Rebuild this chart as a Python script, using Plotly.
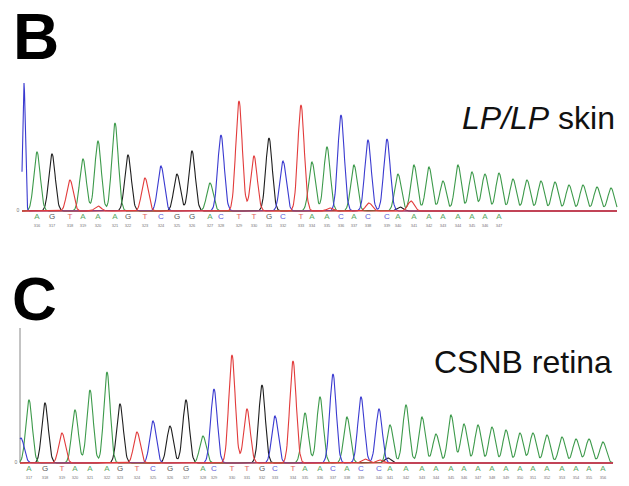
import numpy as np
import plotly.graph_objects as go

# ---------------- data ----------------
# Panel B : LP/LP skin  -- peak positions (scan units), channel, height
b_peak_x = [37, 52, 70, 83, 98, 115, 128, 145, 161, 177, 192, 210, 221, 239, 254, 269, 283, 301, 312,
            327, 341, 354, 368, 387, 398, 414, 429, 443, 458, 472, 485, 499, 513, 527, 541, 555, 569,
            583, 597, 611]
b_peak_ch = "AGTAAAGTCGGACTTGCTAACACCAAAAAAAAAAAAAAAA"
b_peak_h = [59, 57, 31, 52, 70, 88, 56, 33, 45, 37, 60, 28, 76, 110, 55, 73, 50, 106, 49,
            64, 96, 46, 71, 72, 37, 46, 44, 30, 46, 39, 37, 38, 32, 31, 30, 29, 26,
            26, 24, 23]
b_minor_x = [24, 98, 330, 369, 400, 411]
b_minor_ch = "CTTTGT"
b_minor_h = [128, 5, 3, 8, 4, 10]
b_calls = "AGTAAAGTCGGACTTGCTAACACCAAAAAAAA"
b_numbers = [str(n) for n in range(316, 348)]
b_extent = [22, 617]

# Panel C : CSNB retina
c_peak_x = [29, 45, 62, 75, 90, 107, 120, 137, 153, 170, 186, 203, 214, 232, 247, 262, 275, 293, 305,
            320, 333, 347, 361, 379, 390, 406, 422, 436, 451, 464, 478, 492, 506, 520, 533, 547,
            562, 576, 589, 603]
c_peak_ch = "AGTAAAGTCGGACTTGCTAACACCAAAAAAAAAAAAAAAA"
c_peak_h = [63, 60, 30, 53, 73, 91, 59, 31, 42, 37, 63, 27, 74, 108, 54, 78, 47, 102, 50,
            66, 89, 46, 66, 54, 38, 58, 46, 29, 48, 39, 38, 36, 33, 30, 30, 28,
            26, 24, 24, 21]
c_minor_x = [21, 365, 380, 388]
c_minor_ch = "CTTG"
c_minor_h = [25, 4, 3, 5]
c_calls = "AGTAAAGTCGGACTTGCTAACACCAAAAAAAAAAAAAAAA"
c_numbers = [str(n) for n in range(317, 357)]
c_extent = [20, 613]

panel_titles = ["<i>LP/LP</i> skin", "CSNB retina"]
panel_letters = ["B", "C"]

# ---------------- styles ----------------
W, H = 629, 486
COL = {"A": "#3d9a4b", "C": "#3a3ad0", "G": "#1e1e1e", "T": "#e23b3b"}
LBL = {"A": "#5aa865", "C": "#5a5ad8", "G": "#555555", "T": "#e06060"}
SIG = 3.2


def channel_curves(extent, px, pch, ph, mx, mch, mh):
    xs = np.arange(extent[0], extent[1] + 0.25, 0.5)
    out = {}
    for ch in "ACGT":
        y = np.zeros_like(xs)
        for x0, c, h in zip(list(px) + list(mx), pch + mch, list(ph) + list(mh)):
            if c == ch:
                s = 1.3 if (h > 100 and x0 < 30) else SIG
                y += h * np.exp(-0.5 * ((xs - x0) / s) ** 2)
        out[ch] = y
    return xs, out


fig = go.Figure()

panels = [
    (b_extent, b_peak_x, b_peak_ch, b_peak_h, b_minor_x, b_minor_ch, b_minor_h, b_calls, b_numbers, "x", "y"),
    (c_extent, c_peak_x, c_peak_ch, c_peak_h, c_minor_x, c_minor_ch, c_minor_h, c_calls, c_numbers, "x2", "y2"),
]

for i, (ext, px, pch, ph, mx, mch, mh, calls, nums, xa, ya) in enumerate(panels):
    if i == 1:
        fig.add_trace(go.Scatter(x=[ext[0], ext[0]], y=[0, 135], mode="lines",
                                 line=dict(color="#888888", width=1), xaxis=xa, yaxis=ya,
                                 showlegend=False, hoverinfo="skip"))
    xs, curves = channel_curves(ext, px, pch, ph, mx, mch, mh)
    for ch in ["G", "A", "C"]:
        fig.add_trace(go.Scatter(x=xs, y=curves[ch], mode="lines",
                                 line=dict(color=COL[ch], width=1.1), xaxis=xa, yaxis=ya,
                                 showlegend=False, hoverinfo="skip"))
    fig.add_trace(go.Scatter(x=ext, y=[0, 0], mode="lines",
                             line=dict(color=COL["T"], width=1.1), xaxis=xa, yaxis=ya,
                             showlegend=False, hoverinfo="skip"))
    fig.add_trace(go.Scatter(x=xs, y=curves["T"], mode="lines",
                             line=dict(color=COL["T"], width=1.1), xaxis=xa, yaxis=ya,
                             showlegend=False, hoverinfo="skip"))
    n = len(calls)
    cx = px[:n]
    fig.add_trace(go.Scatter(x=cx, y=[-6] * n, mode="text", text=list(calls),
                             textfont=dict(family="Liberation Sans", size=8,
                                           color=[LBL[c] for c in calls]),
                             xaxis=xa, yaxis=ya, showlegend=False, hoverinfo="skip"))
    fig.add_trace(go.Scatter(x=cx, y=[-15] * n, mode="text", text=nums,
                             textfont=dict(family="Liberation Sans", size=4, color="#777777"),
                             xaxis=xa, yaxis=ya, showlegend=False, hoverinfo="skip"))
    fig.add_trace(go.Scatter(x=[ext[0] - 4], y=[0], mode="text", text=["0"],
                             textfont=dict(family="Liberation Sans", size=5, color="#777777"),
                             xaxis=xa, yaxis=ya, showlegend=False, hoverinfo="skip"))

ax = dict(range=[0, W], domain=[0, 1], visible=False, fixedrange=True)
fig.update_layout(
    width=W, height=H, margin=dict(l=0, r=0, t=0, b=0),
    paper_bgcolor="white", plot_bgcolor="white",
    xaxis=dict(ax, anchor="y"),
    yaxis=dict(range=[-19, 141], domain=[1 - 230 / H, 1 - 70 / H], visible=False, anchor="x"),
    xaxis2=dict(ax, anchor="y2"),
    yaxis2=dict(range=[-19, 143], domain=[1 - 482 / H, 1 - 320 / H], visible=False, anchor="x2"),
    annotations=[
        dict(text="<b>B</b>", x=12 / W, y=1.0, xref="paper", yref="paper",
             xanchor="left", yanchor="top", showarrow=False, borderpad=0,
             font=dict(family="Liberation Sans", size=64, color="black")),
        dict(text="<b>C</b>", x=10 / W, y=1 - 298 / H, xref="paper", yref="paper",
             xanchor="left", yanchor="middle", showarrow=False,
             font=dict(family="Liberation Sans", size=62, color="black")),
        dict(text=panel_titles[0], x=617 / W, y=1 - 118 / H, xref="paper", yref="paper",
             xanchor="right", yanchor="middle", showarrow=False,
             font=dict(family="Liberation Sans", size=32, color="#111111")),
        dict(text=panel_titles[1], x=614 / W, y=1 - 362 / H, xref="paper", yref="paper",
             xanchor="right", yanchor="middle", showarrow=False,
             font=dict(family="Liberation Sans", size=32, color="#111111")),
    ],
)

fig.write_html("out.html", config={"displayModeBar": False},
               post_script="document.body.style.margin='0px';document.body.style.overflow='hidden';")
